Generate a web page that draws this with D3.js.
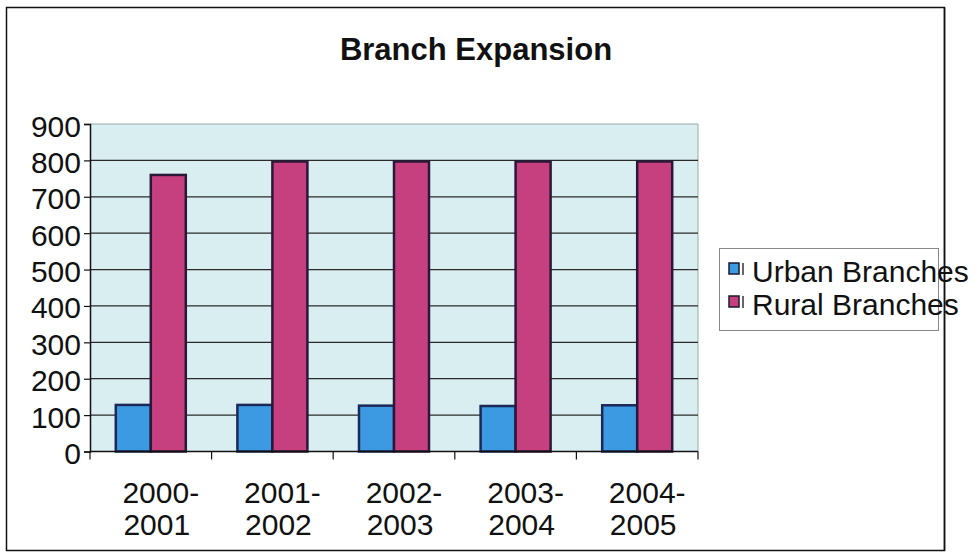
<!DOCTYPE html>
<html>
<head>
<meta charset="utf-8">
<script src="https://cdn.jsdelivr.net/npm/d3@7"></script>
<style>
  html, body { margin: 0; padding: 0; background: #fff; }
  svg { display: block; font-family: "Liberation Sans", Arial, sans-serif; }
</style>
</head>
<body>
<svg id="chart" width="979" height="560"></svg>
<script>
const title = "Branch Expansion";
const categories = ["2000-2001", "2001-2002", "2002-2003", "2003-2004", "2004-2005"];
const seriesNames = ["Urban Branches", "Rural Branches"];
const urbanValues = [128, 128, 126, 125, 127];
const ruralValues = [760, 797, 797, 797, 797];
const yTicks = [0, 100, 200, 300, 400, 500, 600, 700, 800, 900];

const colors = { "Urban Branches": "#3c9ae2", "Rural Branches": "#c6407f" };
const strokes = { "Urban Branches": "#1c2858", "Rural Branches": "#2a1838" };

const svg = d3.select("#chart");

// Outer frame
svg.append("rect")
  .attr("x", 6.5).attr("y", 7.5).attr("width", 938).attr("height", 543)
  .attr("fill", "none").attr("stroke", "#111").attr("stroke-width", 1.5);

// Title
svg.append("text")
  .attr("x", 476).attr("y", 60)
  .attr("text-anchor", "middle")
  .attr("font-size", 31).attr("font-weight", "bold").attr("fill", "#111")
  .text(title);

const plot = { left: 90, right: 698, top: 124, bottom: 451.5 };

const x = d3.scaleBand().domain(categories).range([plot.left, plot.right]).padding(0);
const y = d3.scaleLinear().domain([0, 900]).range([plot.bottom, plot.top]);

// plot background
svg.append("rect")
  .attr("x", plot.left).attr("y", plot.top)
  .attr("width", plot.right - plot.left).attr("height", plot.bottom - plot.top)
  .attr("fill", "#d9eef1");

// plot top & right border (gray)
svg.append("path")
  .attr("d", `M${plot.left},${plot.top}H${plot.right}V${plot.bottom}`)
  .attr("fill", "none").attr("stroke", "#9aa").attr("stroke-width", 1);

// gridlines
svg.append("g").selectAll("line")
  .data(yTicks.filter(d => d > 0 && d < 900))
  .join("line")
  .attr("x1", plot.left).attr("x2", plot.right)
  .attr("y1", d => y(d)).attr("y2", d => y(d))
  .attr("stroke", "#2a2a2a").attr("stroke-width", 1.2);

// Y axis
const yAxis = d3.axisLeft(y).tickValues(yTicks).tickSize(6).tickPadding(3).tickFormat(d3.format("d"));
const gy = svg.append("g").attr("transform", `translate(${plot.left},0)`).call(yAxis);
gy.select(".domain").attr("stroke", "#111").attr("stroke-width", 1.5);
gy.selectAll(".tick line").attr("stroke", "#111").attr("stroke-width", 1.2);
gy.selectAll(".tick text")
  .attr("font-size", 30).attr("fill", "#111")
  .attr("font-family", "Liberation Sans, Arial, sans-serif")
  .attr("dy", "0.4em");

// Bars
const inner = d3.scaleBand().domain(seriesNames).range([0, 70]).padding(0);
const data = categories.map((c, i) => ({ cat: c, values: [
  { name: seriesNames[0], value: urbanValues[i] },
  { name: seriesNames[1], value: ruralValues[i] }
]}));

const groups = svg.append("g").selectAll("g")
  .data(data).join("g")
  .attr("transform", d => `translate(${x(d.cat) + x.bandwidth() / 2 - 35},0)`);

groups.selectAll("rect")
  .data(d => d.values).join("rect")
  .attr("x", d => inner(d.name))
  .attr("y", d => y(d.value))
  .attr("width", inner.bandwidth())
  .attr("height", d => y(0) - y(d.value))
  .attr("fill", d => colors[d.name])
  .attr("stroke", d => strokes[d.name])
  .attr("stroke-width", 2.5);

// X axis (line at 0, ticks at category boundaries)
svg.append("line")
  .attr("x1", plot.left).attr("x2", plot.right)
  .attr("y1", y(0)).attr("y2", y(0))
  .attr("stroke", "#111").attr("stroke-width", 1.5);

const boundaries = categories.map(c => x(c)).concat([x(categories[categories.length - 1]) + x.bandwidth()]);
svg.append("g").selectAll("line")
  .data(boundaries).join("line")
  .attr("x1", d => d).attr("x2", d => d)
  .attr("y1", y(0)).attr("y2", y(0) + 8)
  .attr("stroke", "#111").attr("stroke-width", 1.2);

// X labels (two lines)
const xl = svg.append("g").selectAll("text")
  .data(categories).join("text")
  .attr("x", d => x(d) + x.bandwidth() / 2)
  .attr("text-anchor", "middle")
  .attr("font-size", 30).attr("fill", "#111");
xl.append("tspan")
  .attr("x", d => x(d) + x.bandwidth() / 2 + 10)
  .attr("y", 503)
  .text(d => d.split("-")[0] + "-");
xl.append("tspan")
  .attr("x", d => x(d) + x.bandwidth() / 2 + 6)
  .attr("y", 535)
  .text(d => d.split("-")[1]);

// Legend
const legend = svg.append("g");
legend.append("rect")
  .attr("x", 719.5).attr("y", 248.5).attr("width", 219).attr("height", 82)
  .attr("fill", "#fff").attr("stroke", "#888").attr("stroke-width", 1);

const li = legend.selectAll("g.item")
  .data(seriesNames).join("g").attr("class", "item")
  .attr("transform", (d, i) => `translate(0,${i * 33})`);
li.append("rect")
  .attr("x", 729).attr("y", 263).attr("width", 10).attr("height", 11)
  .attr("fill", d => colors[d]).attr("stroke", "#1a1a30").attr("stroke-width", 1.5);
li.append("line")
  .attr("x1", 743).attr("x2", 743).attr("y1", 263).attr("y2", 275)
  .attr("stroke", "#333").attr("stroke-width", 1.5);
li.append("text")
  .attr("x", 752).attr("y", 282)
  .attr("font-size", 30).attr("fill", "#111")
  .text(d => d);

// frame right edge drawn over legend (it passes through legend text)
svg.append("line")
  .attr("x1", 944.5).attr("x2", 944.5).attr("y1", 7.5).attr("y2", 550.5)
  .attr("stroke", "#111").attr("stroke-width", 1.5);
</script>
</body>
</html>
